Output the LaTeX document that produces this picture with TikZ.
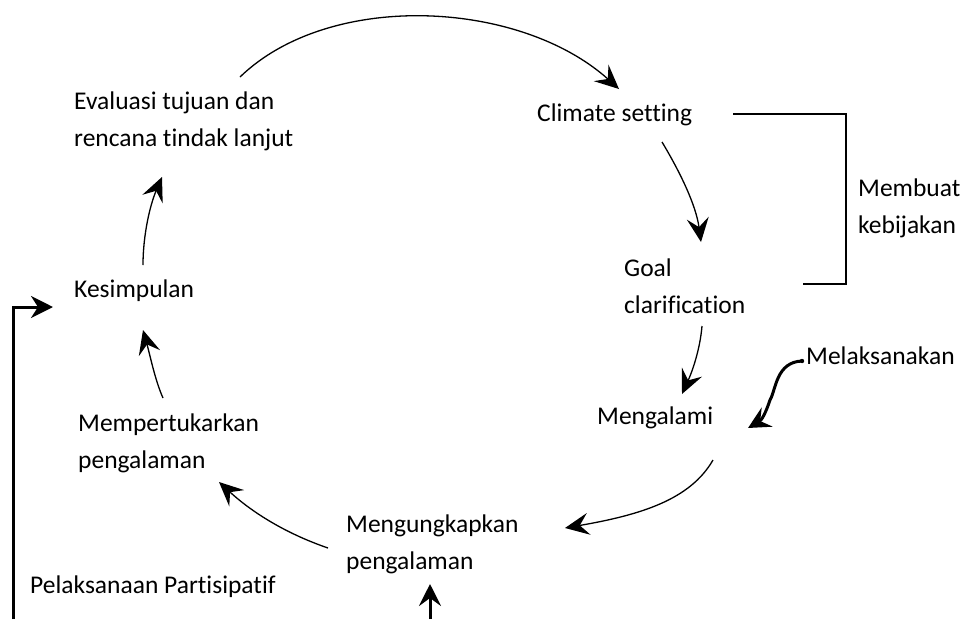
\documentclass[tikz,border=0pt]{standalone}
\usepackage{fontspec}
\setmainfont{Carlito}[Ligatures=NoCommon]
\usetikzlibrary{arrows.meta}
\tikzset{
  lbl/.style={anchor=west,inner sep=0pt,align=left,font=\fontsize{25.5}{37}\selectfont},
  conn/.style={line width=1.3pt,-{Stealth[length=24pt,width=22pt,inset=9pt]}},
  thickconn/.style={line width=3pt,-{Stealth[length=22pt,width=22pt,inset=8pt]}},
  brk/.style={line width=1.3pt}
}
\begin{document}
\begin{tikzpicture}[x=1pt,y=-1pt]
\useasboundingbox (0,0) rectangle (964,619);
\node[lbl] (eval) at (74,121) {Evaluasi tujuan dan\\rencana tindak lanjut};
\node[lbl] (climate) at (537,115) {Climate setting};
\node[lbl] (membuat) at (858,208) {Membuat\\kebijakan};
\node[lbl] (goal) at (624,286) {Goal\\clarification};
\node[lbl] (melak) at (806,356) {Melaksanakan};
\node[lbl] (alami) at (597,418) {Mengalami};
\node[lbl] (tukar) at (78,443) {Mempertukarkan\\pengalaman};
\node[lbl] (simpul) at (74,291) {Kesimpulan};
\node[lbl] (ungkap) at (346,544) {Mengungkapkan\\pengalaman};
\node[lbl] (partis) at (30,587) {Pelaksanaan Partisipatif};

\coordinate (a1s) at (240,77);
\coordinate (a1e) at (619,89);
\draw[conn] (a1s) .. controls (330,-10) and (520,0) .. (a1e);

\coordinate (a2s) at (662,142);
\coordinate (a2e) at (701,242);
\draw[conn] (a2s) .. controls (680,172) and (696,205) .. (a2e);

\coordinate (a3s) at (702,326);
\coordinate (a3e) at (682,394);
\draw[conn] (a3s) .. controls (700,350) and (692,372) .. (a3e);

\coordinate (a4s) at (802,361);
\coordinate (a4e) at (748,428);
\draw[thickconn] (a4s) .. controls (776,362) and (776,390) .. (770,400) .. controls (766,412) and (762,420) .. (a4e);
\fill (a4s) circle (2.2pt);

\coordinate (a5s) at (713,460);
\coordinate (a5e) at (565,528);
\draw[conn] (a5s) .. controls (690,500) and (640,515) .. (a5e);

\coordinate (a6s) at (328,548);
\coordinate (a6e) at (219,482);
\draw[conn] (a6s) .. controls (290,535) and (255,515) .. (a6e);

\coordinate (a7s) at (163,398);
\coordinate (a7e) at (143,330);
\draw[conn] (a7s) .. controls (155,380) and (150,355) .. (a7e);

\coordinate (a8s) at (143,265);
\coordinate (a8e) at (162,177);
\draw[conn] (a8s) .. controls (143,235) and (150,205) .. (a8e);

\coordinate (b1) at (733,114);
\coordinate (b2) at (846,114);
\coordinate (b3) at (846,284);
\coordinate (b4) at (803,284);
\draw[brk] (b1) -- (b2) -- (b3) -- (b4);

\coordinate (l1) at (13,619);
\coordinate (l2) at (13,307);
\coordinate (l3) at (53,307);
\draw[thickconn,-{Stealth[length=22pt,width=22pt,inset=7pt]}] (l1) -- (l2) -- (l3);

\coordinate (m1) at (430,619);
\coordinate (m2) at (430,584);
\draw[thickconn] (m1) -- (m2);
\end{tikzpicture}
\end{document}
